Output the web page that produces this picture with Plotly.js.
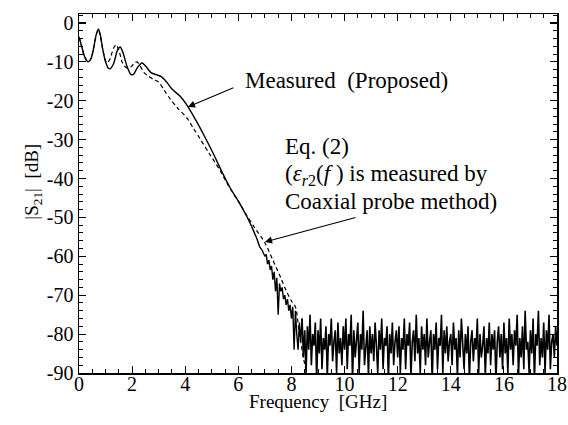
<!DOCTYPE html>
<html>
<head>
<meta charset="utf-8">
<script src="https://cdn.plot.ly/plotly-3.0.1.min.js"></script>
<style>html,body{margin:0;padding:0;background:#fff;}#chart{width:568px;height:425px;}</style>
</head>
<body>
<div id="chart"></div>
<script>
// Measured (Proposed) - smooth part
const measFreq = [0.0,0.1,0.2,0.3,0.35,0.45,0.55,0.65,0.73,0.8,0.9,1.0,1.1,1.17,1.3,1.45,1.55,1.65,1.8,1.95,2.05,2.2,2.37,2.5,2.7,2.9,3.1,3.3,3.5,3.8,4.1,4.4,4.7,5.0,5.4,5.7,6.0,6.3,6.5];
const measDb   = [-3.6,-6,-8.5,-9.8,-10.0,-9.2,-6.5,-3,-1.6,-3,-7,-10,-11.6,-11.8,-10.5,-7,-6.2,-7.5,-11,-13.2,-13.2,-11.5,-10.3,-11,-12.7,-13.3,-13.8,-15.2,-17,-18.8,-21.5,-25,-28.8,-32.8,-38.5,-42.5,-45.8,-49.5,-52.3];
// Measured - noisy roll-off part
const measFreq2 = [6.5,6.6,6.7,6.8,6.9,7.0,7.05,7.1,7.15,7.2,7.25,7.3,7.35,7.4,7.45,7.5,7.55,7.6,7.65,7.7,7.75,7.8,7.85,7.9,7.95,8.0,8.05,8.1,8.15,8.2,8.25,8.3,8.35,8.4];
const measDb2   = [-52.3,-53.8,-55.5,-57.5,-58.5,-60,-59.5,-62,-61,-63.5,-62.5,-66,-64,-69,-65.5,-75,-67,-69,-68,-71,-70,-72.5,-71,-74,-72.5,-76,-73,-84,-74,-80,-84,-77,-82,-76];
// Measured - noise floor (8.4 GHz to 18 GHz, 0.05 GHz spacing)
const floorStart = 8.4, floorStep = 0.05;
const floorDb = [
-76,-86,-79,-90,-78,-84,-75,-88,-80,-83,-77,-92,-79,-85,-76,-89,-81,-84,-78,-91,-80,-83,-76,-87,-82,-79,-90,-77,-85,-81,-88,-78,
-84,-76,-89,-80,-83,-75,-92,-79,-86,-81,-77,-90,-80,-84,-74,-88,-82,-79,-91,-78,-85,-80,-87,-77,-83,-90,-79,-84,-76,-89,-81,-83,-78,-92,-80,-85,-77,-88,-82,-79,
-86,-78,-90,-81,-84,-76,-89,-80,-83,-77,-91,-82,-79,-87,-75,-85,-81,-90,-78,-84,-80,-88,-76,-86,-82,-79,-92,-80,-84,-77,-89,-81,-83,-75,-90,-79,-85,-78,-87,-82,
-80,-88,-77,-84,-81,-91,-79,-86,-76,-83,-89,-80,-85,-78,-92,-82,-79,-87,-81,-84,-76,-90,-80,-86,-83,-78,-91,-81,-85,-77,-88,-80,-84,-79,-92,-82,-78,-86,-80,-89,
-77,-85,-81,-90,-76,-84,-80,-88,-79,-83,-75,-91,-81,-86,-78,-89,-74,-84,-82,-90,-79,-85,-76,-92,-80,-83,-74,-88,-81,-86,-77,-90,-79,-84,-75,-89,-82,-80,-86,-78,-83];
// Eq. (2)
const eqFreq = [0.0,0.1,0.2,0.35,0.45,0.55,0.65,0.73,0.8,0.9,1.0,1.05,1.15,1.3,1.39,1.5,1.65,1.8,1.95,2.1,2.18,2.3,2.45,2.6,2.8,3.0,3.2,3.43,3.7,4.07,4.3,4.56,4.9,5.3,5.6,5.9,6.0,6.3,6.6,7.0,7.3,7.6,7.8,8.0,8.15,8.3,8.45,8.6];
const eqDb   = [-3.6,-6,-8.5,-10,-9.2,-6.5,-3,-1.7,-3.2,-7,-9.8,-10.3,-9.5,-6.5,-5.6,-7,-10.5,-11.6,-11.3,-10.2,-10,-11,-12.8,-13.6,-14.5,-15.2,-17.2,-19.5,-21.8,-24.5,-27,-29.8,-33.5,-37.8,-41.5,-44.8,-45.8,-49.3,-52.5,-56.5,-61,-65.5,-68.8,-71.5,-73,-80,-86,-91];

const xTicks = [0,2,4,6,8,10,12,14,16,18];
const yTicks = [0,-10,-20,-30,-40,-50,-60,-70,-80,-90];
const yTickText = ['0','-10','-20','-30','-40','-50','-60','-70','-80','-90'];

const FONT = 'Liberation Serif';
const lineStyle = {color:'#000', width:1.4};

const traces = [
  {x: eqFreq, y: eqDb, mode:'lines', line:{color:'#000', width:1.2, dash:'4px,3px', shape:'spline', smoothing:0.8}, showlegend:false, hoverinfo:'skip'},
  {x: measFreq, y: measDb, mode:'lines', line:Object.assign({shape:'spline', smoothing:0.8}, lineStyle), showlegend:false, hoverinfo:'skip'},
  {x: measFreq2, y: measDb2, mode:'lines', line:lineStyle, showlegend:false, hoverinfo:'skip'},
  {x0: floorStart, dx: floorStep, y: floorDb, mode:'lines', line:{color:'#000', width:1.6}, showlegend:false, hoverinfo:'skip'}
];

const axisCommon = {
  showgrid:false, zeroline:false, showline:true, linecolor:'#000', linewidth:1.5,
  mirror:'ticks', ticks:'inside', ticklen:7, tickwidth:1.2, tickcolor:'#000',
  tickfont:{family:FONT, size:20, color:'#000'}
};

const layout = {
  width:568, height:425,
  margin:{l:79, r:11, t:14, b:52},
  paper_bgcolor:'#fff', plot_bgcolor:'#fff',
  font:{family:FONT, color:'#000'},
  xaxis: Object.assign({}, axisCommon, {
    range:[0,18], tickmode:'array', tickvals:xTicks, ticktext:xTicks.map(String),
    ticklabelstandoff:-8,
    minor:{tickmode:'linear', tick0:0, dtick:0.5, ticks:'inside', ticklen:4, tickwidth:1, tickcolor:'#000'}
  }),
  yaxis: Object.assign({}, axisCommon, {
    range:[-90,2.3], tickmode:'array', tickvals:yTicks, ticktext:yTickText,
    minor:{tickmode:'linear', tick0:0, dtick:2, ticks:'inside', ticklen:4, tickwidth:1, tickcolor:'#000'}
  }),
  annotations:[
    {xref:'paper', yref:'paper', x:0.5, y:-0.078, text:'Frequency&nbsp;&nbsp;[GHz]', showarrow:false, xanchor:'center', yanchor:'middle', font:{family:FONT, size:19, color:'#000'}},
    {xref:'paper', yref:'paper', x:-0.097, y:0.532, text:'|S<sub>21</sub>|&nbsp;&nbsp;[dB]', textangle:-90, showarrow:false, xanchor:'center', yanchor:'middle', font:{family:FONT, size:19, color:'#000'}},
    {x:6.17, y:-14.7, text:'Measured&nbsp;&nbsp;(Proposed)', showarrow:false, xanchor:'left', yanchor:'middle', font:{family:FONT, size:23, color:'#000'}},
    {x:7.68, y:-31.8, text:'Eq. (2)', showarrow:false, xanchor:'left', yanchor:'middle', font:{family:FONT, size:23, color:'#000'}},
    {x:7.68, y:-39.1, text:'(<i>ε</i><sub><i>r</i>2</sub>(<i>f</i> ) is measured by', showarrow:false, xanchor:'left', yanchor:'middle', font:{family:FONT, size:23, color:'#000'}},
    {x:7.68, y:-45.9, text:'Coaxial probe method)', showarrow:false, xanchor:'left', yanchor:'middle', font:{family:FONT, size:23, color:'#000'}},
    {x:4.10, y:-21.6, ax:5.87, ay:-16.5, axref:'x', ayref:'y', text:'', showarrow:true, arrowhead:2, arrowsize:1.3, arrowwidth:1.1, arrowcolor:'#000'},
    {x:7.0, y:-56.3, ax:10.47, ay:-49.9, axref:'x', ayref:'y', text:'', showarrow:true, arrowhead:2, arrowsize:1.3, arrowwidth:1.1, arrowcolor:'#000'}
  ]
};

Plotly.newPlot('chart', traces, layout, {staticPlot:true, displayModeBar:false});
</script>
</body>
</html>
